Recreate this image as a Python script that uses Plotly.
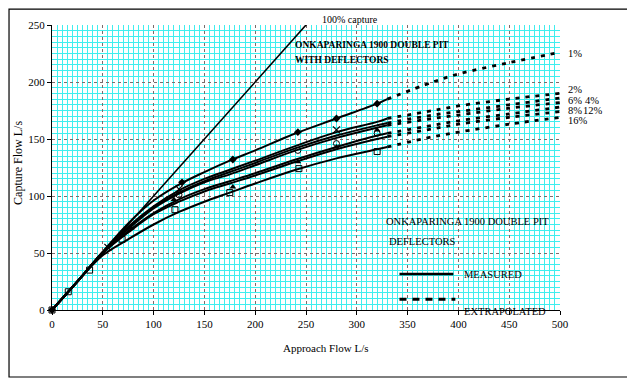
import plotly.graph_objects as go

# ---------------- data ----------------
series_names = ["1%", "2%", "4%", "6%", "8%", "12%", "16%"]

# measured curves (solid)
meas_x = [0, 25, 50, 75, 100, 125, 150, 175, 200, 240, 280, 320, 330]
meas_1 = [0, 25, 51, 76, 96, 110, 121, 131, 140, 155, 168, 181, 185]
meas_2 = [0, 25, 51, 73, 91, 105, 115, 123, 131, 144, 156, 165, 168]
meas_4 = [0, 25, 51, 72, 90, 103, 113, 121, 129, 142, 153, 162, 164]
meas_6 = [0, 25, 50, 71, 89, 102, 112, 119, 127, 140, 151, 160, 162]
meas_8 = [0, 25, 50, 69, 85, 97, 106, 113, 120, 132, 143, 153, 155]
meas_12 = [0, 25, 50, 68, 84, 95, 104, 111, 118, 130, 141, 150, 152]
meas_16 = [0, 25, 48, 62, 75, 86, 95, 103, 111, 123, 133, 141, 143]

# extrapolated curves (dotted)
extr_x = [330, 375, 400, 450, 500]
extr_1 = [185, 200, 207, 217, 226]
extr_2 = [168, 175, 179, 185, 190]
extr_4 = [164, 171, 174, 180, 186]
extr_6 = [162, 168, 171, 177, 182]
extr_8 = [155, 162, 166, 172, 178]
extr_12 = [152, 159, 163, 169, 174]
extr_16 = [143, 152, 156, 163, 169]

# 100% capture line
full_x = [0, 255]
full_y = [0, 255]

# measured test points
pts_diamond_x = [0, 128, 178, 242, 280, 320]
pts_diamond_y = [0, 112, 132, 156, 168, 181]
pts_x_x = [55, 125, 280]
pts_x_y = [55, 106, 158]
pts_tri_x = [78, 120, 178, 242, 280, 320]
pts_tri_y = [72, 97, 108, 130, 143, 158]
pts_sq_x = [0, 16, 37, 69, 121, 175, 243, 320]
pts_sq_y = [0, 16, 35, 62, 88, 103, 124, 139]
pts_circ_x = [125, 242, 280, 320]
pts_circ_y = [101, 140, 146, 155]

# end labels (data units)
label_x = [506, 506, 523, 506, 506, 521, 506]
label_y = [225, 193, 184, 184, 175, 175, 166]
label_txt = ["1%", "2%", "4%", "6%", "8%", "12%", "16%"]

X_RANGE = [0, 500]
Y_RANGE = [0, 250]

meas = [meas_1, meas_2, meas_4, meas_6, meas_8, meas_12, meas_16]
extr = [extr_1, extr_2, extr_4, extr_6, extr_8, extr_12, extr_16]

FONT = "Liberation Serif"


def px(x):
    return (x - X_RANGE[0]) / (X_RANGE[1] - X_RANGE[0])


def py(y):
    return (y - Y_RANGE[0]) / (Y_RANGE[1] - Y_RANGE[0])


fig = go.Figure()

fig.add_trace(go.Scatter(x=full_x, y=full_y, mode="lines",
                         line=dict(color="black", width=1.6), showlegend=False))

for name, ys in zip(series_names, meas):
    fig.add_trace(go.Scatter(x=meas_x, y=ys, mode="lines", name=name,
                             line=dict(color="black", width=2, shape="spline"),
                             showlegend=False))
for name, ys in zip(series_names, extr):
    fig.add_trace(go.Scatter(x=extr_x, y=ys, mode="lines", name=name + " extrapolated",
                             line=dict(color="black", width=2.8, dash="4px,6px", shape="spline"),
                             showlegend=False))

marker_sets = [
    (pts_diamond_x, pts_diamond_y, dict(symbol="diamond", size=6, color="black")),
    (pts_x_x, pts_x_y, dict(symbol="x-thin", size=7, color="black", line=dict(width=1.2, color="black"))),
    (pts_tri_x, pts_tri_y, dict(symbol="triangle-up", size=6, color="black")),
    (pts_sq_x, pts_sq_y, dict(symbol="square-open", size=6, color="black", line=dict(width=1))),
    (pts_circ_x, pts_circ_y, dict(symbol="circle-open", size=6, color="black", line=dict(width=1))),
]
for mx, my, mk in marker_sets:
    fig.add_trace(go.Scatter(x=mx, y=my, mode="markers", marker=mk, showlegend=False,
                             cliponaxis=False))


def note(x, y, text, size=11, bold=False):
    fig.add_annotation(xref="paper", yref="paper", x=px(x), y=py(y),
                       text=("<b>%s</b>" % text) if bold else text,
                       showarrow=False, xanchor="left", yanchor="middle",
                       font=dict(family=FONT, size=size, color="black"))


for lx, ly, lt in zip(label_x, label_y, label_txt):
    note(lx, ly, lt, size=10.5)

note(264, 255, "100% capture", size=10)
note(237, 232.5, "ONKAPARINGA 1900 DOUBLE PIT", size=9.5, bold=True)
note(237, 219, "WITH DEFLECTORS", size=9.5, bold=True)
note(327, 78, "ONKAPARINGA 1900 DOUBLE PIT", size=10.5)
note(330, 60.5, "DEFLECTORS", size=10.5)
note(404, 31, "MEASURED", size=10.5)
note(404, -1, "EXTRAPOLATED", size=10.5)

# legend samples
fig.add_shape(type="line", xref="x", yref="y", x0=342, x1=395, y0=31.5, y1=31.5,
              line=dict(color="black", width=2.5))
fig.add_shape(type="line", xref="x", yref="y", x0=342, x1=397, y0=9.5, y1=9.5,
              line=dict(color="black", width=3, dash="7px,6px"))

# axis titles
fig.add_annotation(xref="paper", yref="paper", x=0.539, y=-0.133, text="Approach Flow L/s",
                   showarrow=False, xanchor="center", yanchor="middle",
                   font=dict(family=FONT, size=11, color="black"))
fig.add_annotation(xref="paper", yref="paper", x=-0.067, y=0.516, text="Capture Flow L/s",
                   showarrow=False, xanchor="center", yanchor="middle", textangle=-90,
                   font=dict(family=FONT, size=12, color="black"))

# outer frame
fig.add_shape(type="rect", xref="paper", yref="paper", x0=-0.0846, x1=1.1339, y0=-0.2351, y1=1.056,
              line=dict(color="black", width=1.2), layer="below")

axis_common = dict(showgrid=True, gridcolor="#7a6a6a", griddash="dot", gridwidth=1.2,
                   showline=True, linecolor="black", linewidth=1.2, ticks="outside",
                   ticklen=4, tickcolor="black", zeroline=False,
                   tickfont=dict(family=FONT, size=11, color="black"))

minor_grid = dict(dtick=5, showgrid=True, gridcolor="#40eeee", gridwidth=1,
                  griddash="solid", ticks="")

fig.update_xaxes(range=X_RANGE, tick0=0, dtick=50, minor=minor_grid, **axis_common)
fig.update_yaxes(range=Y_RANGE, tick0=0, dtick=50, minor=minor_grid, **axis_common)

# the page body adds an 8px offset at top/left, so the figure is 8px smaller
fig.update_layout(width=627, height=374, margin=dict(l=44, r=75, t=17, b=72),
                  plot_bgcolor="white", paper_bgcolor="white", showlegend=False,
                  font=dict(family=FONT, color="black"))

fig.write_html("out.html")
